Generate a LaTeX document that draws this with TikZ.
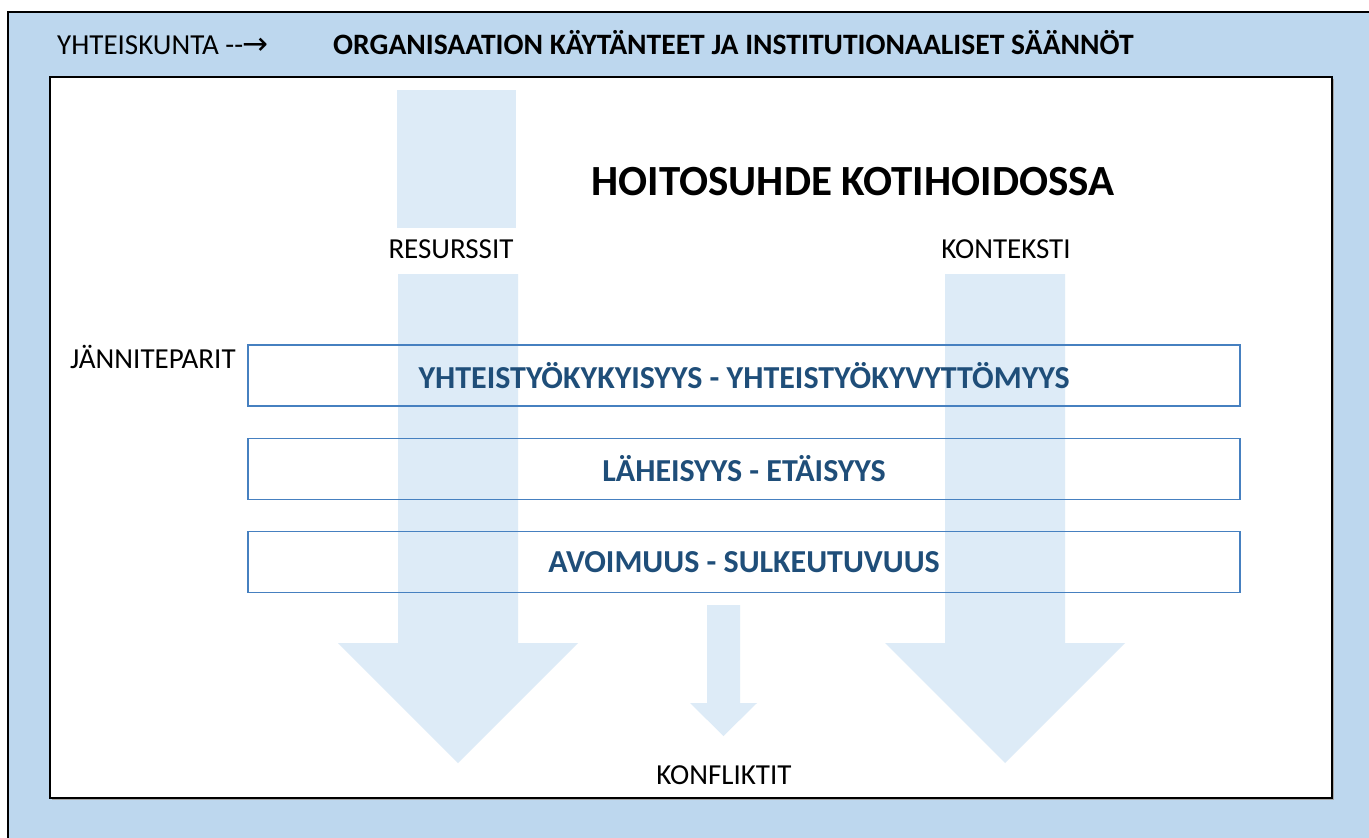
\documentclass[tikz,border=0pt]{standalone}
\usepackage{fontspec}
\setmainfont{Carlito}
\newfontfamily\arrowfont{DejaVu Sans}
\definecolor{bgblue}{RGB}{189,215,238}
\definecolor{arrowblue}{RGB}{221,235,247}
\definecolor{boxline}{RGB}{70,128,192}
\definecolor{boxtext}{RGB}{31,78,121}
\tikzset{
  plain/.style={font=\fontsize{29}{34}\selectfont, text=black, inner sep=0pt},
  boldtop/.style={font=\fontsize{29.6}{34}\selectfont\bfseries, text=black, inner sep=0pt},
  titlestyle/.style={font=\fontsize{43}{48}\selectfont\bfseries, text=black, inner sep=0pt},
  pairbox/.style={draw=boxline, line width=1.3pt, minimum width=992pt, minimum height=61pt, inner sep=0pt,
    font=\fontsize{32}{36}\selectfont\bfseries, text=boxtext},
  bigarrow/.style={fill=arrowblue, draw=none}
}
\begin{document}
\begin{tikzpicture}[x=1pt,y=-1pt]
\useasboundingbox (0,0) rectangle (1369,838);
% outer frame
\fill[bgblue] (8,12) rectangle (1369,838);
\draw[black, line width=1.3pt] (8,838) -- (8,12) -- (1369,12);
% inner white panel
\draw[gray!70, line width=1.5pt] (52,799.5) -- (1333.5,799.5) -- (1333.5,79);
\draw[fill=white, line width=1.2pt] (50,77) rectangle (1332,798);
% arrows
\fill[bigarrow] (397,90) rectangle (516,228);
\fill[bigarrow] (398,274) -- (518,274) -- (518,643) -- (578,643) -- (458,763) -- (338,643) -- (398,643) -- cycle;
\fill[bigarrow] (945,274) -- (1065,274) -- (1065,643) -- (1125,643) -- (1005,763) -- (885,643) -- (945,643) -- cycle;
\fill[bigarrow] (707,605) -- (740,605) -- (740,703) -- (757,703) -- (723.5,736) -- (690,703) -- (707,703) -- cycle;
% header texts
\node[plain, anchor=base west] (soc) at (57,54) {YHTEISKUNTA -{}-{\arrowfont\fontsize{31}{34}\selectfont\kern-1pt\raisebox{-0.5pt}{→}}};
\node[boldtop, anchor=base west] (org) at (333,54) {ORGANISAATION KÄYTÄNTEET JA INSTITUTIONAALISET SÄÄNNÖT};
\node[titlestyle] (title) at (853,182) {HOITOSUHDE KOTIHOIDOSSA};
\node[plain] (res) at (451,249) {RESURSSIT};
\node[plain] (kon) at (1006,249) {KONTEKSTI};
\node[plain, anchor=west] (jan) at (70,357) {JÄNNITEPARIT};
\node[plain] (konf) at (724,775) {KONFLIKTIT};
% tension pairs
\node[pairbox] (p1) at (744,375.5) {YHTEISTYÖKYKYISYYS - YHTEISTYÖKYVYTTÖMYYS};
\node[pairbox] (p2) at (744,469) {LÄHEISYYS - ETÄISYYS};
\node[pairbox] (p3) at (744,562) {AVOIMUUS - SULKEUTUVUUS};
\end{tikzpicture}
\end{document}
